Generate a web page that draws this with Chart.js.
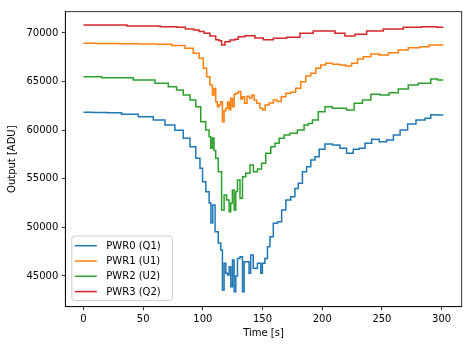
<!DOCTYPE html>
<html>
<head>
<meta charset="utf-8">
<script src="https://cdn.jsdelivr.net/npm/chart.js@4.4.0/dist/chart.umd.min.js"></script>
<style>
  html, body { margin: 0; padding: 0; background: #fff; }
</style>
</head>
<body>
<canvas id="powerChart" width="473" height="347"></canvas>
<script>
// series, time in seconds, output in ADU
const seriesLabels = ['PWR0 (Q1)', 'PWR1 (U1)', 'PWR2 (U2)', 'PWR3 (Q2)'];
const seriesColors = ['#1f77b4', '#ff7f0e', '#2ca02c', '#d62728'];

const pwr0Time = [0, 15, 25, 38.9, 52.9, 64.1, 72.4, 80.8, 86.4, 92, 96.2, 99, 100.5, 104.5, 106, 107.5, 109, 111.5,
  114.3, 115.7, 117.1, 118.5, 120, 121.3, 122.7, 124.1, 125.5, 126.9, 128.3, 129.7, 132.5, 133.9, 135.3, 138,
  139.4, 140.8, 143.6, 147.8, 149.2, 150.6, 153.4, 154.8, 157.6, 160.4, 164.6, 167.4, 171.6, 175.7, 178.5, 181.3,
  185.5, 188.3, 192.5, 195.3, 199.5, 205, 212, 217.6, 223.2, 228.8, 233, 238.6, 244.2, 251.2, 256.8, 262.4, 268,
  275, 282, 290.2, 291.6, 301.4];
const pwr0Output = [61840, 61830, 61800, 61630, 61390, 61050, 60530, 60000, 59160, 58300, 57110, 56080, 54700, 53670, 52500, 50450, 52300, 49550,
  48390, 47670, 43550, 46300, 45270, 45100, 45960, 43890, 46640, 43380, 45000, 46810, 46980, 43380, 46470, 46470,
  45270, 47150, 45790, 46300, 45270, 46300, 46810, 48010, 49040, 50420, 50590, 51790, 52820, 53160, 54010, 54530,
  55730, 56240, 56930, 57270, 58030, 58580, 58480, 58140, 57620, 58030, 58140, 58650, 59060, 58810, 58990, 59500, 60020,
  60640, 61050, 61220, 61600, 61560];

const pwr1Time = [0, 20, 40, 55, 66.9, 80.8, 89.2, 94.8, 99, 101.8, 104.5, 107.3, 108.7, 110.1, 111.5, 112.9, 114,
  115.7, 117.1, 118.5, 120, 121.5, 122.7, 124.1, 125.5, 127, 128.3, 131.1, 132.5, 133.9, 136, 138, 140, 142.2,
  143.6, 146.4, 149.2, 151, 153.4, 157.6, 160.4, 164, 167.4, 171.6, 175.7, 179.9, 184.1, 188.3, 192.5, 196.7,
  200.8, 205, 212, 217.6, 221.8, 227.4, 231.6, 237.2, 244.2, 251.2, 259.5, 267.9, 276.2, 287.4, 291.6, 301.4];
const pwr1Output = [68940, 68930, 68900, 68870, 68840, 68700, 68420, 67910, 67390, 66370, 65500, 64650, 63620, 64300, 62930, 62420, 62600,
  62930, 60870, 62000, 62250, 62900, 62100, 63280, 62420, 63700, 63800, 63970, 63200, 63450, 62760, 63500, 63300, 63620,
  63110, 62760, 62250, 62080, 62590, 62800, 63110, 62950, 63450, 63790, 63900, 64310, 64990, 65580, 65850, 66370,
  66710, 66880, 66780, 66710, 66600, 66880, 67330, 67560, 67840, 67740, 67970, 68250, 68490, 68590, 68770, 68770];

const pwr2Time = [0, 30.6, 52.9, 66.9, 75.2, 80.8, 86.4, 92, 96.2, 100.3, 104.5, 106, 107.3, 108.7, 110, 111.5, 114.3,
  117.1, 118.5, 121.3, 122.7, 124, 125.5, 126.9, 128.3, 129.7, 132.5, 133.9, 138, 140.9, 143.7, 147.8, 150.6,
  154.8, 159, 161.8, 166, 170.2, 175.7, 182.7, 186.9, 189.7, 193.9, 199.5, 205, 212, 217.6, 223.2, 230.2, 237.2,
  244.2, 252.6, 259.5, 267.9, 276.2, 284.6, 290.2, 291.6, 301.4];
const pwr2Output = [65500, 65400, 65160, 64820, 64470, 64130, 63620, 63110, 62420, 60870, 60020, 59330, 58140, 59200, 57900, 57110, 55730,
  51790, 53330, 52810, 51620, 52500, 53850, 51790, 53700, 54870, 52990, 55210, 55560, 56420, 55730, 56000, 56590,
  57620, 58300, 58650, 59160, 59500, 59680, 60020, 60530, 60700, 61050, 61900, 62420, 62250, 62250, 62080, 62760, 63110,
  63690, 63620, 63860, 64240, 64650, 64820, 64820, 65270, 65160];

const pwr3Time = [0, 20, 53, 75.4, 80.8, 90, 94.8, 99, 103.2, 108.7, 112.9, 114.3, 117.1, 120, 125.5, 128.3, 131,
  139.4, 147.8, 153.4, 164.6, 175.7, 186.9, 198, 206.4, 214.8, 223.2, 231.6, 242.7, 259.5, 276.2, 290.2, 301.4];
const pwr3Output = [70820, 70810, 70730, 70650, 70580, 70420, 70310, 70150, 69970, 69700, 69300, 69200, 68770, 69110, 69280, 69350, 69620,
  69720, 69480, 69300, 69450, 69550, 69970, 70200, 70200, 69970, 69690, 69860, 70200, 70410, 70580, 70650, 70600];

const xTicks = [0, 50, 100, 150, 200, 250, 300];
const yTicks = [45000, 50000, 55000, 60000, 65000, 70000];

Chart.defaults.font.family = "'DejaVu Sans', sans-serif";
Chart.defaults.font.size = 10;
Chart.defaults.color = '#000';

function toPoints(times, values) {
  return times.map((t, i) => ({ x: t, y: values[i] }));
}

// 外框與圖例（matplotlib 風格）
const frameLegendPlugin = {
  id: 'frameLegend',
  afterDraw(chart) {
    const { ctx, chartArea: a } = chart;
    ctx.save();
    ctx.strokeStyle = '#000';
    ctx.lineWidth = 0.8;
    ctx.strokeRect(a.left, a.top, a.right - a.left, a.bottom - a.top);

    const boxW = 100.6, boxH = 64.7;
    const bx = a.left + 6.5, by = a.bottom - 6 - boxH;
    ctx.beginPath();
    ctx.roundRect(bx, by, boxW, boxH, 3);
    ctx.fillStyle = 'rgba(255,255,255,0.8)';
    ctx.fill();
    ctx.strokeStyle = '#cccccc';
    ctx.lineWidth = 1;
    ctx.stroke();

    ctx.font = "10px 'DejaVu Sans', sans-serif";
    ctx.textBaseline = 'middle';
    chart.data.datasets.forEach((ds, i) => {
      const y = by + 9.7 + i * 15.3;
      ctx.strokeStyle = ds.borderColor;
      ctx.lineWidth = 1.5;
      ctx.beginPath();
      ctx.moveTo(bx + 3, y);
      ctx.lineTo(bx + 25, y);
      ctx.stroke();
      ctx.fillStyle = '#000';
      ctx.fillText(ds.label, bx + 34.5, y + 0.5);
    });
    ctx.restore();
  }
};

const ctx = document.getElementById('powerChart').getContext('2d');
new Chart(ctx, {
  type: 'line',
  data: {
    datasets: [
      { label: seriesLabels[0], data: toPoints(pwr0Time, pwr0Output), borderColor: seriesColors[0] },
      { label: seriesLabels[1], data: toPoints(pwr1Time, pwr1Output), borderColor: seriesColors[1] },
      { label: seriesLabels[2], data: toPoints(pwr2Time, pwr2Output), borderColor: seriesColors[2] },
      { label: seriesLabels[3], data: toPoints(pwr3Time, pwr3Output), borderColor: seriesColors[3] }
    ]
  },
  options: {
    responsive: false,
    animation: false,
    layout: { padding: { top: 11.7, right: 11.3, left: 0, bottom: 0 } },
    elements: {
      line: { borderWidth: 1.5, stepped: 'middle', tension: 0, fill: false },
      point: { radius: 0 }
    },
    plugins: {
      legend: { display: false },
      tooltip: { enabled: false }
    },
    scales: {
      x: {
        type: 'linear',
        min: -15.2,
        max: 316.8,
        afterBuildTicks: (scale) => { scale.ticks = xTicks.map(v => ({ value: v })); },
        afterFit: (scale) => { scale.height = 40.3; },
        ticks: { padding: 3, maxRotation: 0, callback: (v) => String(v) },
        grid: { drawOnChartArea: false, tickLength: 3.5, color: '#000', lineWidth: 0.8 },
        border: { display: true, color: '#000', width: 0.8 },
        title: { display: true, text: 'Time [s]', padding: { top: 0, bottom: 8 } }
      },
      y: {
        min: 41840,
        max: 72190,
        afterBuildTicks: (scale) => { scale.ticks = yTicks.map(v => ({ value: v })); },
        afterFit: (scale) => { scale.width = 65.3; },
        ticks: { padding: 3.5, callback: (v) => String(v) },
        grid: { drawOnChartArea: false, tickLength: 3.5, color: '#000', lineWidth: 0.8 },
        border: { display: true, color: '#000', width: 0.8 },
        title: { display: true, text: 'Output [ADU]', padding: { top: 6, bottom: 0 } }
      }
    }
  },
  plugins: [frameLegendPlugin]
});
</script>
</body>
</html>
